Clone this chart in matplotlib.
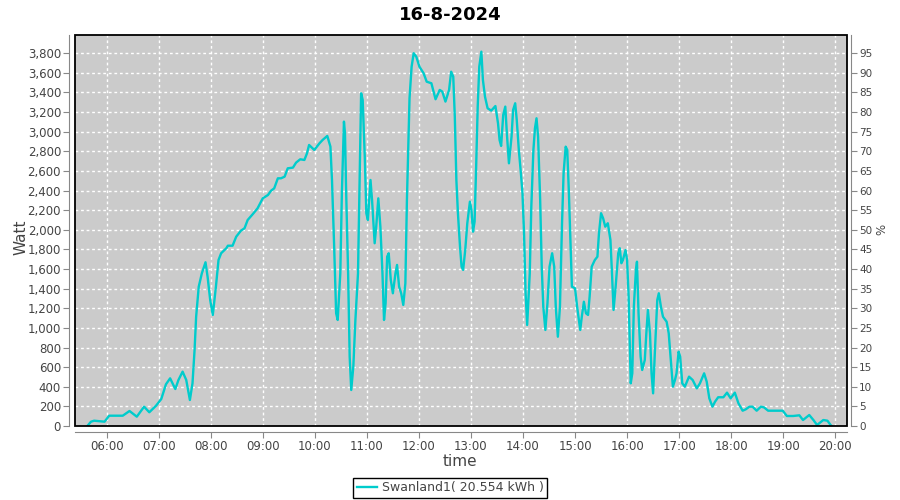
import matplotlib.pyplot as plt
from matplotlib.patches import Rectangle
from matplotlib.ticker import FuncFormatter, MultipleLocator

# time in decimal hours, power in watt
hours = [5.63, 5.70, 5.76, 5.96, 6.05, 6.31, 6.44, 6.58, 6.72, 6.82, 6.95, 7.05, 7.14, 7.22,
         7.32, 7.38, 7.46, 7.53, 7.60, 7.65, 7.69, 7.72, 7.77, 7.83, 7.90, 7.94, 7.99, 8.04,
         8.10, 8.15, 8.20, 8.30, 8.33, 8.42, 8.49, 8.58, 8.65, 8.71, 8.81, 8.90, 9.00, 9.10,
         9.16, 9.22, 9.29, 9.35, 9.42, 9.48, 9.58, 9.64, 9.72, 9.80, 9.85, 9.89, 9.99, 10.09,
         10.15, 10.24, 10.30, 10.33, 10.37, 10.41, 10.44, 10.49, 10.52, 10.56, 10.58, 10.60,
         10.64, 10.67, 10.70, 10.74, 10.78, 10.83, 10.86, 10.89, 10.92, 10.96, 10.99, 11.02,
         11.07, 11.10, 11.15, 11.18, 11.22, 11.26, 11.30, 11.33, 11.36, 11.39, 11.42, 11.46,
         11.50, 11.55, 11.58, 11.62, 11.66, 11.70, 11.74, 11.77, 11.80, 11.82, 11.86, 11.90,
         11.95, 12.01, 12.09, 12.15, 12.24, 12.32, 12.40, 12.45, 12.51, 12.58, 12.62, 12.66,
         12.69, 12.72, 12.75, 12.79, 12.82, 12.85, 12.89, 12.93, 12.98, 13.01, 13.04, 13.07,
         13.10, 13.13, 13.16, 13.20, 13.23, 13.27, 13.32, 13.39, 13.47, 13.52, 13.55, 13.58,
         13.62, 13.66, 13.69, 13.73, 13.78, 13.81, 13.85, 13.88, 13.92, 13.96, 13.99, 14.02,
         14.05, 14.08, 14.13, 14.16, 14.20, 14.23, 14.26, 14.29, 14.33, 14.36, 14.39, 14.43,
         14.47, 14.51, 14.56, 14.60, 14.63, 14.67, 14.71, 14.75, 14.78, 14.82, 14.85, 14.88,
         14.91, 14.94, 15.00, 15.04, 15.10, 15.13, 15.17, 15.21, 15.25, 15.28, 15.32, 15.38,
         15.43, 15.46, 15.50, 15.54, 15.58, 15.63, 15.68, 15.71, 15.74, 15.78, 15.83, 15.86,
         15.89, 15.92, 15.97, 16.00, 16.03, 16.07, 16.10, 16.13, 16.17, 16.19, 16.22, 16.26,
         16.29, 16.34, 16.37, 16.40, 16.44, 16.47, 16.50, 16.53, 16.58, 16.61, 16.65, 16.69,
         16.76, 16.80, 16.84, 16.88, 16.92, 16.95, 16.99, 17.02, 17.06, 17.11, 17.19, 17.26,
         17.34, 17.40, 17.48, 17.53, 17.58, 17.64, 17.69, 17.75, 17.85, 17.92, 17.99, 18.07,
         18.14, 18.22, 18.28, 18.35, 18.41, 18.49, 18.57, 18.63, 18.71, 18.81, 18.99, 19.07,
         19.19, 19.31, 19.38, 19.50, 19.58, 19.65, 19.77, 19.85, 19.91, 19.93]
watt = [0, 44, 54, 44, 105, 105, 153, 95, 197, 140, 207, 275, 425, 486,
        377, 469, 554, 469, 265, 435, 775, 1114, 1420, 1557, 1669, 1522, 1285, 1132,
        1420, 1692, 1761, 1812, 1838, 1838, 1930, 1991, 2016, 2100, 2161, 2219, 2321, 2355,
        2399, 2423, 2525, 2525, 2542, 2627, 2634, 2685, 2719, 2712, 2780, 2865, 2814, 2882,
        2916, 2957, 2848, 2508, 1863, 1149, 1081, 1557, 2373, 3103, 2984, 2440,
        1557, 707, 367, 605, 1081, 1557, 2508, 3392, 3324, 2746, 2169, 2100,
        2508, 2304, 1863, 2032, 2321, 2032, 1557, 1081, 1251, 1726, 1761, 1489,
        1353, 1557, 1642, 1420, 1353, 1234, 1455, 2304, 2916, 3341, 3663, 3800,
        3765, 3663, 3596, 3510, 3494, 3331, 3426, 3409, 3307, 3426, 3612, 3561,
        3154, 2508, 2169, 1828, 1624, 1591, 1794, 2067, 2287, 2202, 1981, 2083,
        2644, 3256, 3663, 3816, 3528, 3357, 3239, 3215, 3262, 3086, 2916, 2855,
        3171, 3256, 2984, 2678, 2950, 3222, 3290, 3120, 2814, 2576, 2373, 1965,
        1353, 1030, 1557, 2236, 2814, 3035, 3137, 2950, 2304, 1624, 1216, 979,
        1251, 1624, 1761, 1624, 1216, 910, 1216, 2067, 2576, 2848, 2814, 2406,
        1897, 1420, 1404, 1216, 979, 1114, 1267, 1149, 1132, 1318, 1624, 1692,
        1726, 1965, 2169, 2117, 2032, 2067, 1897, 1557, 1183, 1420, 1761, 1812,
        1659, 1692, 1794, 1692, 1318, 435, 537, 1216, 1591, 1675, 1149, 707,
        571, 673, 945, 1183, 945, 537, 333, 707, 1285, 1353, 1216, 1114,
        1063, 945, 673, 401, 469, 537, 758, 707, 435, 401, 503, 469,
        384, 435, 537, 452, 282, 197, 248, 293, 293, 340, 282, 340,
        231, 156, 170, 197, 197, 156, 197, 190, 156, 156, 156, 102,
        102, 109, 61, 112, 61, 10, 61, 54, 10, 0]

title = '16-8-2024'
series_name = 'Swanland1( 20.554 kWh )'
hour_ticks = list(range(6, 21))

tick_col = '#444444'
axis_col = '#888888'

fig = plt.figure(figsize=(9, 5), dpi=100)
ax = fig.add_axes([0.0833, 0.148, 0.8575, 0.782])
ax.set_facecolor('#cbcbcb')

ax.plot(hours, watt, color='#00cccc', lw=1.7, label=series_name, zorder=3)

ax.set_xlim(5.392, 20.22)
ax.set_ylim(0, 3986)
ax.set_xticks(hour_ticks)
ax.xaxis.set_major_formatter(FuncFormatter(lambda v, p: '%02d:00' % int(round(v))))
ax.yaxis.set_major_locator(MultipleLocator(200))
ax.yaxis.set_major_formatter(FuncFormatter(lambda v, p: '{:,.0f}'.format(v)))
ax.grid(color='white', linestyle=(0, (2, 2)), lw=1)

for s in ['left', 'bottom']:
    ax.spines[s].set_position(('outward', 4))
    ax.spines[s].set_color(axis_col)
ax.spines['top'].set_visible(False)
ax.spines['right'].set_visible(False)
ax.add_patch(Rectangle((0, 0), 1, 1, transform=ax.transAxes, fill=False,
                       edgecolor='black', lw=1.3, clip_on=False, zorder=5))
ax.tick_params(colors=axis_col, labelcolor=tick_col, labelsize=8.5, length=4, pad=2)

ax2 = ax.twinx()
ax2.set_ylim(0, 3986 / 40)
ax2.yaxis.set_major_locator(MultipleLocator(5))
for s in ['left', 'bottom', 'top']:
    ax2.spines[s].set_visible(False)
ax2.spines['right'].set_position(('outward', 3))
ax2.spines['right'].set_color(axis_col)
ax2.tick_params(colors=axis_col, labelcolor=tick_col, labelsize=7.5, length=4, pad=2)

# axis titles placed at the reference positions
fig.text(460 / 900, 1 - 461 / 500, 'time', fontsize=11, color=tick_col, ha='center', va='center')
fig.text(21 / 900, 1 - 237 / 500, 'Watt', fontsize=11, color=tick_col, ha='center', va='center',
         rotation=90)
fig.text(882 / 900, 1 - 229 / 500, '%', fontsize=8.5, color=tick_col, ha='center', va='center',
         rotation=90)
fig.suptitle(title, fontsize=13, fontweight='bold', y=0.97, va='center')

leg = fig.legend(loc='center', bbox_to_anchor=(0.5, 1 - 488 / 500), fontsize=9,
                 fancybox=False, edgecolor='black', framealpha=1,
                 handlelength=1.6, borderpad=0.3, handletextpad=0.4)
leg.get_frame().set_linewidth(1)
for t in leg.get_texts():
    t.set_color(tick_col)

plt.savefig('out.png', dpi=100)
